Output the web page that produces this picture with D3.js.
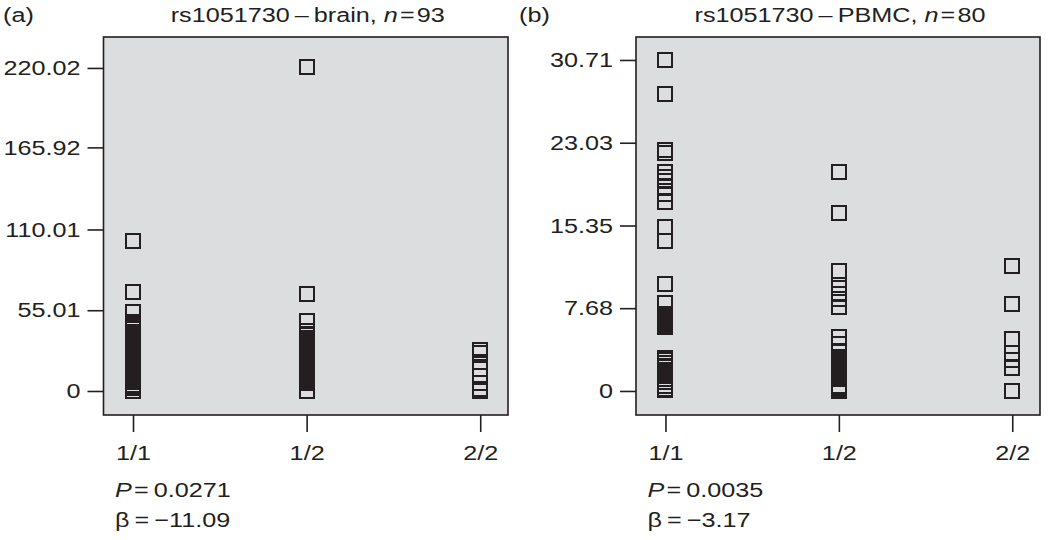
<!DOCTYPE html>
<html>
<head>
<meta charset="utf-8">
<script src="https://cdn.jsdelivr.net/npm/d3@7"></script>
<style>
  body { margin: 0; background: #fff; }
  text { font-family: "Liberation Sans", Arial, sans-serif; fill: #231f20; }
</style>
</head>
<body>
<svg id="chart"></svg>
<script>
// genotype categories, shared by both panels
var genotypes = ["1/1", "1/2", "2/2"];

// panel (a) brain
var brain11 = [102.2, 67.6, 53.5, 47.0, 45.3, 44.5, 43.6, 42.2, 40.2, 39.0, 38.5, 36.8, 35.1, 34.1, 33.0, 32.5,
	31.3, 30.4, 29.6, 28.8, 27.9, 27.0, 26.6, 25.7, 24.9, 23.8, 23.2, 22.5, 21.8, 20.1, 19.2, 18.4, 17.0, 16.2,
	15.3, 14.5, 13.6, 12.3, 10.6, 8.9, 7.2, 5.8, 4.4, 3.4, 1.7, 0.3];
var brain12 = [221.0, 65.9, 47.8, 41.0, 38.5, 36.3, 34.6, 33.4, 32.0, 31.2, 30.6, 29.3, 28.1, 27.4, 26.8, 25.5,
	25.0, 24.0, 23.3, 22.7, 21.5, 20.8, 20.2, 19.0, 18.3, 17.6, 16.3, 15.2, 13.3, 12.2, 11.0, 10.2, 9.3, 8.5,
	7.6, 6.8, 5.9, 5.3, 0.2];
var brain22 = [27.6, 26.2, 19.5, 15.0, 10.0, 5.5, 1.2, 0.3];
var brainTicks = [0, 55.01, 110.01, 165.92, 220.02];

// panel (b) PBMC
var pbmc11 = [30.71, 27.55, 22.4, 22.1, 20.36, 19.87, 19.5, 18.94, 18.26, 17.49, 15.17, 13.91, 9.97, 8.2,
	7.12, 6.95, 6.88, 6.7, 6.6, 6.55, 6.4, 6.3, 6.2, 6.15, 6.05, 5.95, 5.89, 3.1, 2.85, 2.6, 2.35, 2.2, 1.9,
	1.65, 1.4, 1.1, 0.8, 0.5, 0.2, 0.05];
var pbmc12 = [20.34, 16.54, 11.15, 9.8, 9.55, 8.98, 8.52, 7.81, 5.03, 4.34, 3.57, 3.17, 3.04, 2.88, 2.75, 2.6,
	2.5, 2.45, 2.3, 2.2, 2.05, 1.9, 1.8, 1.7, 1.55, 1.45, 1.3, 1.2, 1.11, 0.5, 0.35, 0.15, 0.0];
var pbmc22 = [11.6, 8.07, 4.8, 3.5, 2.9, 2.1, 0.0];
var pbmcTicks = [0, 7.68, 15.35, 23.03, 30.71];

var panels = [
	{tag: "(a)", tissue: "brain", n: 93, groups: [brain11, brain12, brain22], ticks: brainTicks,
		yDomain: [-16.35, 241.1], left: 103.5, right: 508, p: "0.0271", beta: "\u221211.09"},
	{tag: "(b)", tissue: "PBMC", n: 80, groups: [pbmc11, pbmc12, pbmc22], ticks: pbmcTicks,
		yDomain: [-2.23, 32.84], left: 636, right: 1040, p: "0.0035", beta: "\u22123.17"}
];

var plotTop = 37, plotBottom = 415, box = 14, fs = 21, sx = 1.2;

// the printed figure is a little wider than tall, so widen text around its anchor
function stretch(sel) {
	sel.each(function() {
		var x = +this.getAttribute("x") || 0, y = +this.getAttribute("y") || 0;
		d3.select(this).attr("transform",
			"translate(" + x + "," + y + ") scale(" + sx + ",1) translate(" + (-x) + "," + (-y) + ")");
	});
}

var svg = d3.select("#chart")
	.attr("width", 1050)
	.attr("height", 540);

panels.forEach(function(pn, i) {
	var xScale = d3.scaleLinear().domain([0.83, 3.16]).range([pn.left, pn.right]);
	var yScale = d3.scaleLinear().domain(pn.yDomain).range([plotBottom, plotTop]);
	var mid = (pn.left + pn.right) / 2;

	var g = svg.append("g");

	g.append("rect")
		.attr("x", pn.left)
		.attr("y", plotTop)
		.attr("width", pn.right - pn.left)
		.attr("height", plotBottom - plotTop)
		.attr("fill", "#dcdddf")
		.attr("stroke", "#231f20")
		.attr("stroke-width", 1.6);

	// y axis
	g.append("g")
		.attr("transform", "translate(" + pn.left + ",0)")
		.call(d3.axisLeft(yScale).tickValues(pn.ticks)
			.tickFormat(function(d) { return d === 0 ? "0" : d.toFixed(2); })
			.tickSize(16).tickPadding(7))
		.call(function(a) { a.select(".domain").remove(); })
		.call(function(a) {
			a.selectAll("line").attr("stroke", "#231f20").attr("stroke-width", 1.6);
			a.selectAll("text").attr("font-size", fs).attr("font-family", null).attr("fill", "#231f20")
				.call(stretch);
		});

	// x axis
	g.append("g")
		.attr("transform", "translate(0," + plotBottom + ")")
		.call(d3.axisBottom(xScale).tickValues([1, 2, 3])
			.tickFormat(function(d) { return genotypes[d - 1]; })
			.tickSize(17).tickPadding(13))
		.call(function(a) { a.select(".domain").remove(); })
		.call(function(a) {
			a.selectAll("line").attr("stroke", "#231f20").attr("stroke-width", 1.6);
			a.selectAll("text").attr("font-size", fs).attr("font-family", null).attr("fill", "#231f20")
				.call(stretch);
		});

	// open squares, snapped to whole pixels so every side gets the same weight
	pn.groups.forEach(function(vals, k) {
		g.append("g")
			.selectAll("rect")
			.data(vals)
			.enter()
			.append("rect")
			.attr("x", Math.round(xScale(k + 1) - box / 2))
			.attr("y", function(d) { return Math.round(yScale(d) - box / 2); })
			.attr("width", box)
			.attr("height", box)
			.attr("fill", "none")
			.attr("stroke", "#231f20")
			.attr("stroke-width", 2)
			.attr("shape-rendering", "crispEdges");
	});

	// labels
	svg.append("text")
		.attr("x", i === 0 ? 3 : 519)
		.attr("y", 22)
		.attr("font-size", fs)
		.text(pn.tag)
		.call(stretch);

	var title = svg.append("text")
		.attr("x", mid + 2)
		.attr("y", 22)
		.attr("text-anchor", "middle")
		.attr("font-size", fs);
	title.append("tspan").text("rs1051730\u2009\u2013\u2009" + pn.tissue + ", ");
	title.append("tspan").attr("font-style", "italic").text("n");
	title.append("tspan").text("\u200a=\u200a" + pn.n);
	title.call(stretch);

	var pt = svg.append("text")
		.attr("x", xScale(1) - 18)
		.attr("y", 497)
		.attr("font-size", fs);
	pt.append("tspan").attr("font-style", "italic").text("P");
	pt.append("tspan").text("\u200a=\u2009" + pn.p);
	pt.call(stretch);

	svg.append("text")
		.attr("x", xScale(1) - 18)
		.attr("y", 527)
		.attr("font-size", fs)
		.text("\u03b2\u2009=\u2009" + pn.beta)
		.call(stretch);
});
</script>
</body>
</html>
